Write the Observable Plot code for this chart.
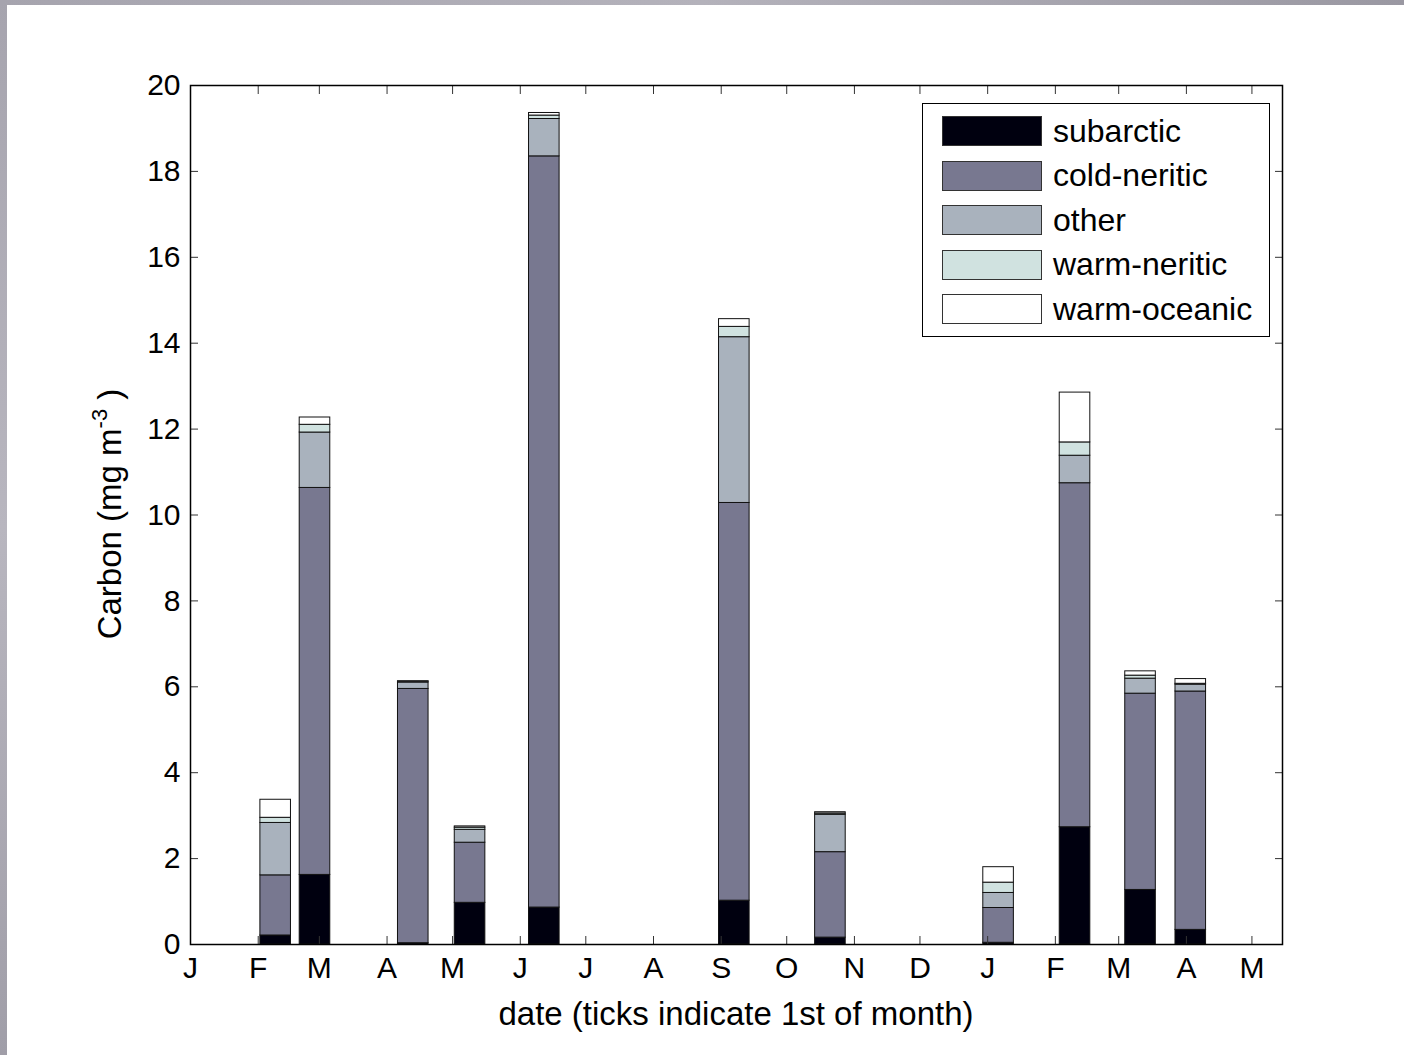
<!DOCTYPE html>
<html>
<head>
<meta charset="utf-8">
<script src="https://cdn.jsdelivr.net/npm/d3@7"></script>
<script src="https://cdn.jsdelivr.net/npm/@observablehq/plot@0.6"></script>
<style>
  html, body { margin: 0; padding: 0; background: #fff; }
  #wrap { position: relative; width: 1404px; height: 1055px; overflow: hidden; background: #fff; font-family: "Liberation Sans", Arial, sans-serif; }
  #edgeTop { position: absolute; left: 0; top: 0; width: 1404px; height: 5px; background: linear-gradient(to right, #a6a4ae, #b4b2bb 50%, #9a98a2); }
  #edgeLeft { position: absolute; left: 0; top: 0; width: 7px; height: 1055px; background: linear-gradient(to bottom, #a6a4ae, #b8b6bf 50%, #a09ea8); }
  #chart { position: absolute; left: 0; top: 0; }
  #xlabel { position: absolute; left: 0; width: 1472px; top: 995px; text-align: center; font-size: 33px; color: #000; }
  #ylabel { position: absolute; left: 110px; top: 514px; transform: translate(-50%, -50%) rotate(-90deg); white-space: nowrap; font-size: 33px; color: #000; }
  #ylabel sup { font-size: 22px; vertical-align: 14px; line-height: 0; }
  #legend { position: absolute; left: 922px; top: 103px; width: 346px; height: 232px; border: 1.5px solid #000; background: #fff; }
  .row { position: absolute; left: 19px; height: 32px; display: flex; align-items: center; }
  .sw { width: 100px; height: 30px; border: 1px solid #333; box-sizing: border-box; }
  .lt { margin-left: 11px; font-size: 32px; color: #000; }
</style>
</head>
<body>
<div id="wrap">
  <div id="chart"></div>
  <div id="edgeTop"></div>
  <div id="edgeLeft"></div>
  <div id="xlabel">date (ticks indicate 1st of month)</div>
  <div id="ylabel">Carbon (mg m<sup>-3</sup> )</div>
  <div id="legend"></div>
</div>
<script>
// ---- data ----
const sampleDates = ["2007-02-09", "2007-02-27", "2007-04-13", "2007-05-09", "2007-06-12", "2007-09-07", "2007-10-21", "2008-01-06", "2008-02-10", "2008-03-11", "2008-04-03"];
const groups = ["subarctic", "cold-neritic", "other", "warm-neritic", "warm-oceanic"];
const subarctic   = [0.21, 1.62, 0.03, 0.97, 0.86, 1.02, 0.16, 0.04, 2.73, 1.27, 0.34];
const coldNeritic = [1.40, 9.01, 5.92, 1.40, 17.49, 9.26, 1.99, 0.81, 8.01, 4.57, 5.55];
const other       = [1.22, 1.29, 0.15, 0.30, 0.87, 3.86, 0.87, 0.35, 0.64, 0.35, 0.16];
const warmNeritic = [0.12, 0.18, 0.02, 0.05, 0.08, 0.24, 0.03, 0.24, 0.31, 0.07, 0.02];
const warmOceanic = [0.42, 0.17, 0.01, 0.03, 0.06, 0.18, 0.03, 0.36, 1.16, 0.10, 0.11];
const groupColors = ["#00000f", "#787890", "#a9b2bd", "#d0e2e0", "#ffffff"];
const yTicks = [0, 2, 4, 6, 8, 10, 12, 14, 16, 18, 20];
const monthLetters = ["J", "F", "M", "A", "M", "J", "J", "A", "S", "O", "N", "D"];
const xDomain = ["2007-01-01", "2008-05-15"];
const tickStart = "2007-01-01", tickEnd = "2008-05-02";
const halfWidthDays = 7;

// ---- build stacked table ----
const series = [subarctic, coldNeritic, other, warmNeritic, warmOceanic];
const DAY = 864e5;
const table = [];
sampleDates.forEach((ds, i) => {
  const d = new Date(ds + "T00:00:00Z");
  let acc = 0;
  series.forEach((s, g) => {
    const v = s[i];
    table.push({
      x1: new Date(+d - halfWidthDays * DAY),
      x2: new Date(+d + halfWidthDays * DAY),
      y1: acc,
      y2: acc + v,
      group: groups[g]
    });
    acc += v;
  });
});

const months = d3.utcMonth.range(new Date(tickStart + "T00:00:00Z"), new Date(tickEnd + "T00:00:00Z"));

const chart = Plot.plot({
  width: 1404,
  height: 1055,
  marginLeft: 190,
  marginRight: 122,
  marginTop: 85,
  marginBottom: 111,
  style: { fontFamily: "Liberation Sans, Arial, sans-serif", background: "transparent", color: "#000" },
  x: { type: "utc", domain: xDomain.map(s => new Date(s + "T00:00:00Z")) },
  y: { domain: [0, 20] },
  color: { domain: groups, range: groupColors },
  marks: [
    Plot.rect(table, { x1: "x1", x2: "x2", y1: "y1", y2: "y2", fill: "group", stroke: "#111", strokeWidth: 1 }),
    Plot.axisX({ anchor: "bottom", ticks: months, tickFormat: d => monthLetters[d.getUTCMonth()], tickSize: -8, tickPadding: 20, fontSize: 30, label: null, stroke: "#333" }),
    Plot.axisX({ anchor: "top", ticks: months, tickFormat: () => "", tickSize: -8, label: null, stroke: "#333" }),
    Plot.axisY({ anchor: "left", ticks: yTicks, tickSize: -8, tickPadding: 18, fontSize: 30, label: null, stroke: "#333" }),
    Plot.axisY({ anchor: "right", ticks: yTicks, tickFormat: () => "", tickSize: -8, label: null, stroke: "#333" }),
    Plot.frame({ stroke: "#000", strokeWidth: 1.5 })
  ]
});
document.getElementById("chart").appendChild(chart);

// ---- legend ----
const legend = document.getElementById("legend");
groups.forEach((g, i) => {
  const row = document.createElement("div");
  row.className = "row";
  row.style.top = (11 + i * 44.5) + "px";
  const sw = document.createElement("div");
  sw.className = "sw";
  sw.style.background = groupColors[i];
  const lt = document.createElement("div");
  lt.className = "lt";
  lt.textContent = g;
  row.appendChild(sw);
  row.appendChild(lt);
  legend.appendChild(row);
});
</script>
</body>
</html>
